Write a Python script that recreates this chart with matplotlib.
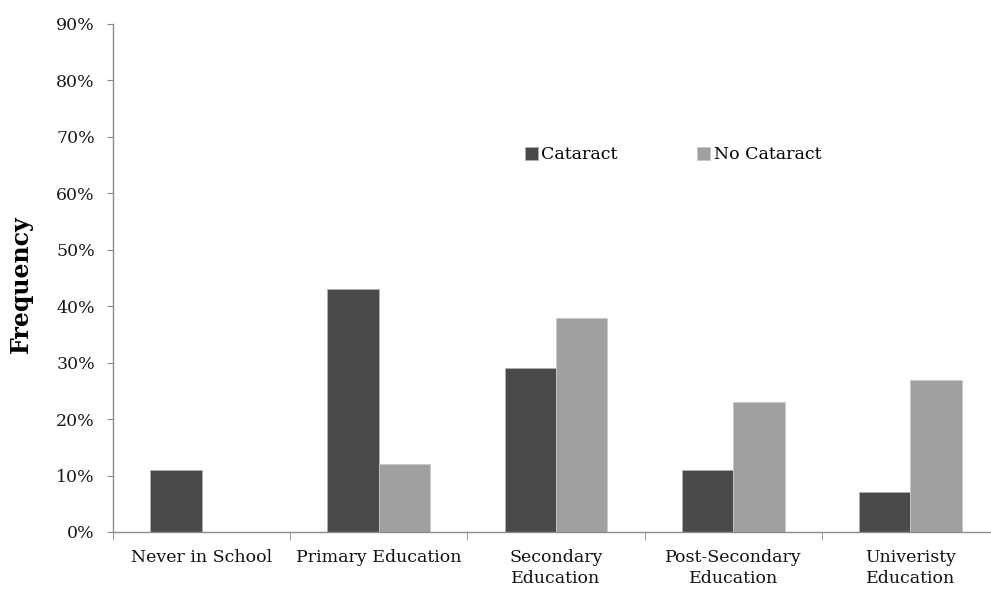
import matplotlib
matplotlib.use("Agg")
import matplotlib.pyplot as plt
import numpy as np
from matplotlib.ticker import FixedLocator, NullFormatter

categories = ["Never in School", "Primary Education", "Secondary\nEducation",
              "Post-Secondary\nEducation", "Univeristy\nEducation"]
cataract = [11, 43, 29, 11, 7]
no_cataract = [0, 12, 38, 23, 27]
y_ticks = [0, 10, 20, 30, 40, 50, 60, 70, 80, 90]
y_tick_labels = [f"{v}%" for v in y_ticks]

dark = "#4a4a4a"
light = "#a0a0a0"
axis_col = "#8c8c8c"
font = ["DejaVu Serif"]

fig = plt.figure(figsize=(9.91, 5.89), dpi=100)
ax = fig.add_axes([113 / 991, 1 - 532 / 589, (999 - 113) / 991, (532 - 24) / 589])

x = np.arange(len(categories))
w = 0.29
ax.bar(x - w / 2, cataract, w, color=dark, edgecolor="#b0b0b0", linewidth=0.6,
       label="Cataract")
ax.bar(x + w / 2, no_cataract, w, color=light, edgecolor="#c8c8c8", linewidth=0.6,
       label="No Cataract")

ax.set_xlim(-0.5, len(categories) - 0.5)
ax.set_ylim(0, 90)

for s in ["top", "right"]:
    ax.spines[s].set_visible(False)
for s in ["left", "bottom"]:
    ax.spines[s].set_color(axis_col)
    ax.spines[s].set_linewidth(1.0)

ax.set_yticks(y_ticks)
ax.set_yticklabels(y_tick_labels, fontsize=12.5, family=font, color="#1a1a1a")
ax.tick_params(axis="y", direction="out", length=4, color=axis_col, pad=9)

ax.set_xticks(x)
ax.set_xticklabels(categories, fontsize=12.5, family=font, color="#111111",
                   linespacing=1.3)
ax.tick_params(axis="x", which="major", length=0, pad=12)
ax.xaxis.set_minor_locator(FixedLocator(np.arange(-0.5, len(categories), 1.0)))
ax.xaxis.set_minor_formatter(NullFormatter())
ax.tick_params(axis="x", which="minor", direction="out", length=6, color=axis_col)

ax.set_ylabel("Frequency", fontsize=17, family=font, fontweight="bold")
ax.yaxis.set_label_coords(-0.090, 0.488)

leg = ax.legend(loc="upper left", bbox_to_anchor=(0.447, 0.79), ncol=2,
                frameon=False, prop={"family": font, "size": 12.5},
                handlelength=0.75, handleheight=0.75, handletextpad=0.2,
                columnspacing=4.6)

fig.savefig("out.png", dpi=100)
